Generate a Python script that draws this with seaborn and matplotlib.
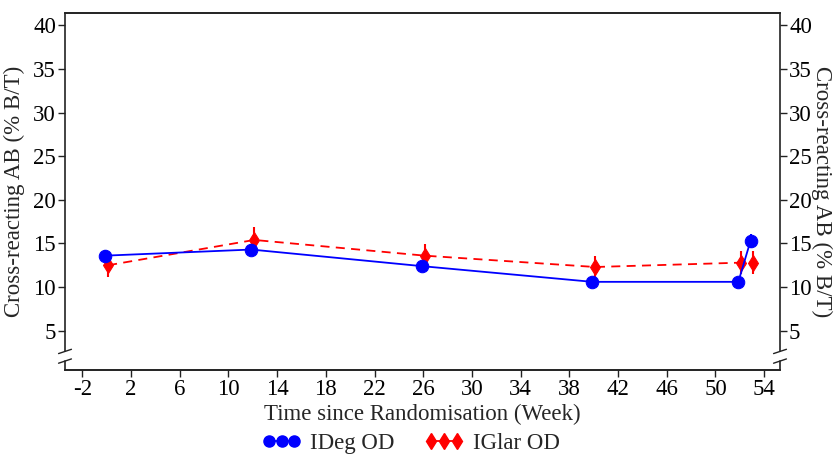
import numpy as np
import pandas as pd
import matplotlib
matplotlib.use("Agg")
import matplotlib.pyplot as plt
import seaborn as sns
from matplotlib.lines import Line2D

weeks = [0, 12, 26, 40, 52, 53]
ideg_mean = [13.6, 14.3, 12.4, 10.6, 10.6, 15.3]
ideg_err = [0.6, 0.6, 0.5, 0.5, 0.5, 0.8]
iglar_mean = [12.5, 15.4, 13.6, 12.3, 12.8, 12.8]
iglar_err = [1.3, 1.5, 1.3, 1.3, 1.3, 1.3]
series_names = ["IDeg OD", "IGlar OD"]
x_ticks = list(range(-2, 55, 4))
y_ticks = list(range(5, 41, 5))

sns.set_theme(style="ticks")
plt.rcParams["font.family"] = ["Liberation Serif", "DejaVu Serif"]
FS = 16.5
plt.rcParams["font.size"] = FS

fig = plt.figure(figsize=(8.35, 4.57), dpi=100)
ax = fig.add_axes([65 / 835, 1 - 370 / 457, (780 - 65) / 835, (370 - 13) / 457])

dodge = 0.12
df_b = pd.DataFrame({"week": np.array(weeks) - dodge, "val": ideg_mean})
df_r = pd.DataFrame({"week": np.array(weeks) + dodge, "val": iglar_mean})

blue = "#0000ff"
red = "#ff0000"
sns.lineplot(data=df_r, x="week", y="val", ax=ax, color=red, lw=1.3,
             linestyle=(0, (5, 3.5)), marker="d", markersize=8.5,
             markeredgecolor=red, sort=False, zorder=3)
ax.errorbar(df_r["week"], df_r["val"], yerr=iglar_err, fmt="none",
            ecolor=red, elinewidth=1.5, capsize=0, zorder=3)
sns.lineplot(data=df_b, x="week", y="val", ax=ax, color=blue, lw=1.3,
             marker="o", markersize=9, markeredgecolor=blue, sort=False, zorder=4)
ax.errorbar(df_b["week"], df_b["val"], yerr=ideg_err, fmt="none",
            ecolor=blue, elinewidth=1.5, capsize=0, zorder=4)

ax.set_xlim(-3.42, 55.3)
ax.set_ylim(0.5, 41.4)
ax.set_xticks(x_ticks)
ax.set_xticklabels([str(t) for t in x_ticks])
ax.set_yticks(y_ticks)
ax.set_yticklabels([str(t) for t in y_ticks])
ax.set_xlabel("Time since Randomisation (Week)", fontsize=FS, labelpad=3)
ax.set_ylabel("Cross-reacting AB (% B/T)", fontsize=FS, labelpad=6)

spine_col = "#222222"
ax.tick_params(axis="both", direction="out", length=5, width=1, colors=spine_col,
               labelcolor="black", labelsize=FS, pad=1.5)

ax2 = ax.twinx()
ax2.set_ylim(ax.get_ylim())
ax2.set_yticks(y_ticks)
ax2.set_yticklabels([str(t) for t in y_ticks])
ax2.set_ylabel("Cross-reacting AB (% B/T)", fontsize=FS, rotation=270, labelpad=14.5)
ax2.tick_params(axis="y", direction="out", length=5, width=1, colors=spine_col,
                labelcolor="black", labelsize=FS, pad=1.5)

for a in (ax, ax2):
    for s in a.spines.values():
        s.set_color(spine_col)
        s.set_linewidth(1.2)
    a.spines["left"].set_visible(False)
    a.spines["right"].set_visible(False)

# broken y axes drawn in axes coordinates
g0, g1 = 0.025, 0.052
for xa in (0.0, 1.0):
    ax.plot([xa, xa], [0, g0], transform=ax.transAxes, color=spine_col, lw=1.2, clip_on=False, zorder=5)
    ax.plot([xa, xa], [g1, 1], transform=ax.transAxes, color=spine_col, lw=1.2, clip_on=False, zorder=5)
    for gy in (g0, g1):
        ax.plot([xa - 0.009, xa + 0.009], [gy - 0.006, gy + 0.006], transform=ax.transAxes,
                color=spine_col, lw=1.0, clip_on=False, zorder=5)

handles = [
    Line2D([0], [0], color=blue, lw=1.3, marker="o", markersize=8),
    Line2D([0], [0], color=red, lw=1.3, marker="d", markersize=8),
]
fig.legend(handles, series_names, loc="upper center", bbox_to_anchor=(0.492, 0.072),
           ncol=2, frameon=False, numpoints=3, handlelength=1.7, handletextpad=0.4,
           columnspacing=1.3, fontsize=FS, borderaxespad=0)

fig.savefig("out.png", dpi=100)
